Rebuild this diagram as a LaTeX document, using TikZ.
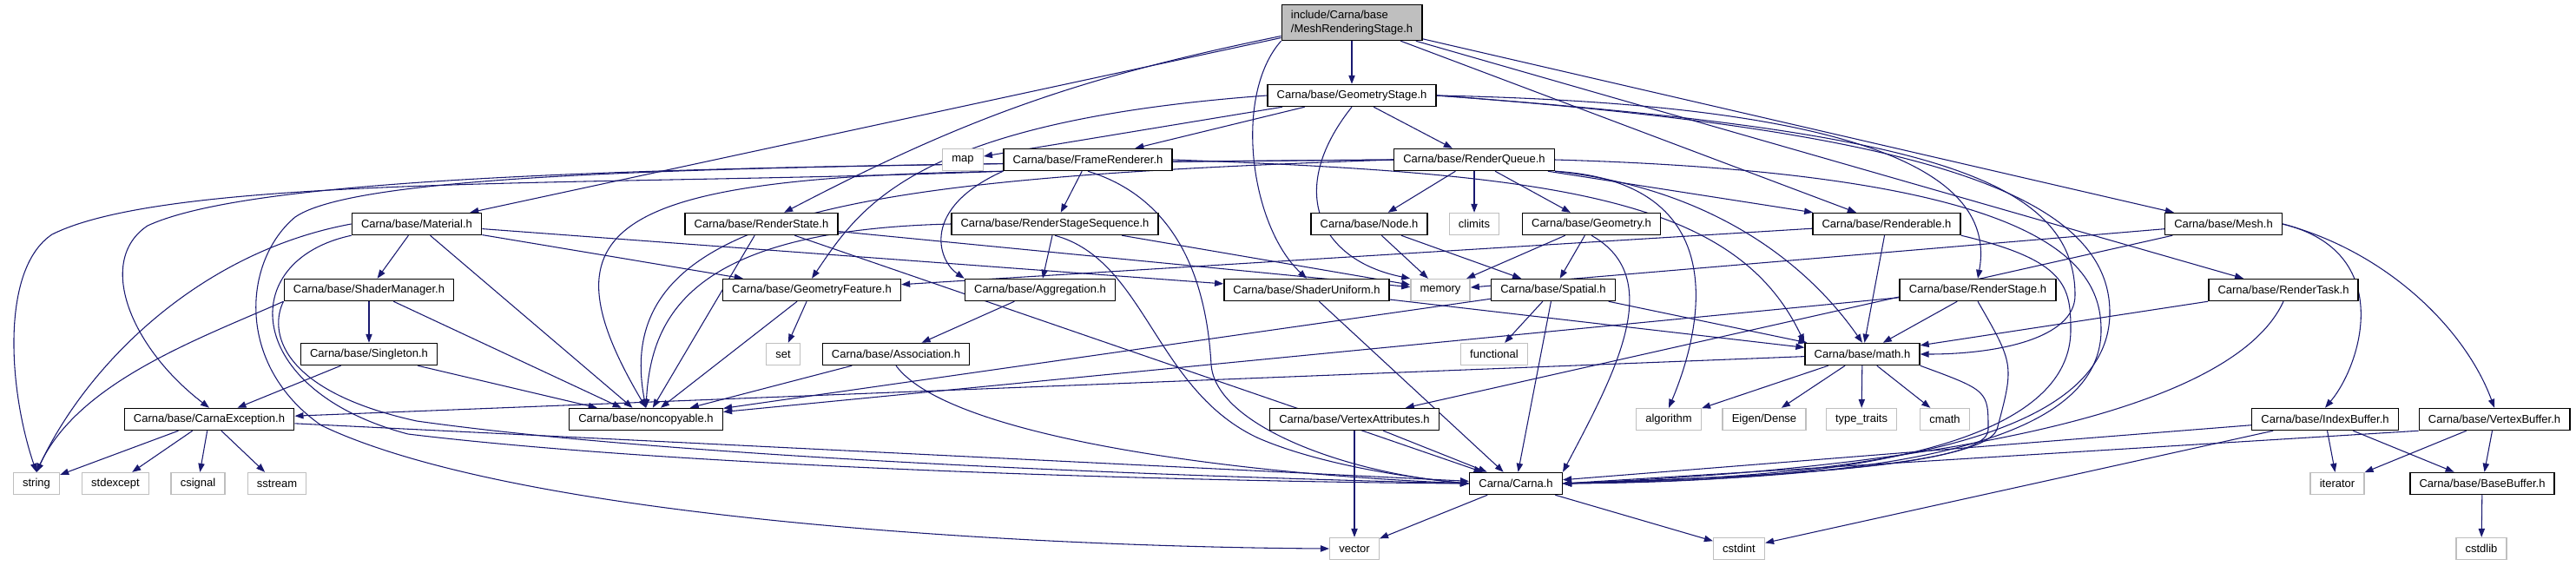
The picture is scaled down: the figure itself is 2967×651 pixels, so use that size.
\documentclass[tikz,border=0pt]{standalone}
\usepackage{fontspec}
\setmainfont{Liberation Sans}
\usetikzlibrary{arrows.meta}
\definecolor{depblue}{HTML}{191970}
\definecolor{sysgray}{HTML}{BFBFBF}
\pgfdeclarelayer{edges}
\pgfsetlayers{edges,main}

\begin{document}
\begin{tikzpicture}[x=0.75pt, y=-0.75pt,
    font=\fontsize{9.75}{11.5}\selectfont,
    hdr/.style={rectangle, fill=white, minimum height=18.75pt, inner xsep=8pt, inner ysep=1pt},
    doc/.style={hdr, draw=black, line width=1.1pt},
    sys/.style={hdr, draw=sysgray, line width=1pt},
    dep/.style={draw=depblue, line width=0.8pt, -{Triangle[length=7.5pt, width=5.5pt]}}]
    \useasboundingbox (0,0) rectangle (2967,651);
    % the header of this graph
    \node[doc, fill=sysgray, align=left, minimum height=30.75pt] (mrs) at (1557,26)
        {include/Carna/base\\/MeshRenderingStage.h};
    \node[doc] (gstage) at (1557,110) {Carna/base/GeometryStage.h};
    % row 3
    \node[sys] (map) at (1109,184) {map};
    \node[doc] (frend) at (1253,184) {Carna/base/FrameRenderer.h};
    \node[doc] (rqueue) at (1698,184) {Carna/base/RenderQueue.h};
    % row 4
    \node[doc] (material) at (480,258) {Carna/base/Material.h};
    \node[doc] (rstate) at (877,258) {Carna/base/RenderState.h};
    \node[doc] (rss) at (1215,258) {Carna/base/RenderStageSequence.h};
    \node[doc] (nodeh) at (1577,258) {Carna/base/Node.h};
    \node[sys] (climits) at (1698,258) {climits};
    \node[doc] (geom) at (1833,258) {Carna/base/Geometry.h};
    \node[doc] (rend) at (2173,258) {Carna/base/Renderable.h};
    \node[doc] (mesh) at (2561,258) {Carna/base/Mesh.h};
    % row 5
    \node[doc] (smgr) at (425,334) {Carna/base/ShaderManager.h};
    \node[doc] (gfeat) at (935,334) {Carna/base/GeometryFeature.h};
    \node[doc] (aggr) at (1198,334) {Carna/base/Aggregation.h};
    \node[doc] (suni) at (1505,334) {Carna/base/ShaderUniform.h};
    \node[sys] (memory) at (1659,334) {memory};
    \node[doc] (spatial) at (1789,334) {Carna/base/Spatial.h};
    \node[doc] (rstage) at (2278,334) {Carna/base/RenderStage.h};
    \node[doc] (rtask) at (2630,334) {Carna/base/RenderTask.h};
    % row 6
    \node[doc] (singleton) at (425,408) {Carna/base/Singleton.h};
    \node[sys] (seth) at (902,408) {set};
    \node[doc] (assoc) at (1032,408) {Carna/base/Association.h};
    \node[sys] (functional) at (1721,408) {functional};
    \node[doc] (math) at (2145,408) {Carna/base/math.h};
    % row 7
    \node[doc] (cexc) at (241,483) {Carna/base/CarnaException.h};
    \node[doc] (nonc) at (744,483) {Carna/base/noncopyable.h};
    \node[doc] (vattr) at (1560,483) {Carna/base/VertexAttributes.h};
    \node[sys] (algorithm) at (1922,483) {algorithm};
    \node[sys] (eigen) at (2032,483) {Eigen/Dense};
    \node[sys] (ttraits) at (2144,483) {type\_traits};
    \node[sys] (cmath) at (2240,483) {cmath};
    \node[doc] (ibuf) at (2678,483) {Carna/base/IndexBuffer.h};
    \node[doc] (vbuf) at (2873,483) {Carna/base/VertexBuffer.h};
    % row 8
    \node[sys] (string) at (42,557) {string};
    \node[sys] (stdexcept) at (133,557) {stdexcept};
    \node[sys] (csignal) at (228,557) {csignal};
    \node[sys] (sstream) at (319,557) {sstream};
    \node[doc] (carna) at (1746,557) {Carna/Carna.h};
    \node[sys] (iterator) at (2692,557) {iterator};
    \node[doc] (bbuf) at (2859,557) {Carna/base/BaseBuffer.h};
    % row 9
    \node[sys] (vector) at (1560,632) {vector};
    \node[sys] (cstdint) at (2003,632) {cstdint};
    \node[sys] (cstdlib) at (2858,632) {cstdlib};

    \begin{pgfonlayer}{edges}
    % straight includes
    \foreach \a/\b in {mrs/gstage, mrs/material, mrs/rend, mrs/mesh, mrs/rtask,
        gstage/map, gstage/frend, gstage/rqueue, frend/rss,
        rqueue/nodeh, rqueue/climits, rqueue/geom, rqueue/rend,
        material/smgr, material/nonc, material/gfeat, material/suni,
        rstate/nonc, rstate/carna, rstate/memory, rss/aggr, rss/memory,
        nodeh/memory, nodeh/spatial, geom/memory, geom/spatial,
        smgr/singleton, smgr/nonc, singleton/cexc, singleton/nonc,
        gfeat/seth, gfeat/nonc, aggr/assoc, assoc/nonc,
        suni/math, suni/carna, spatial/functional, spatial/carna, spatial/math, spatial/nonc,
        rend/math, rend/gfeat, mesh/memory, mesh/vattr,
        rstage/math, rstage/nonc, rtask/math, vattr/vector, vattr/carna,
        ibuf/iterator, ibuf/bbuf, ibuf/carna, ibuf/cstdint,
        vbuf/iterator, vbuf/bbuf, bbuf/cstdlib,
        cexc/string, cexc/stdexcept, cexc/csignal, cexc/sstream, cexc/carna,
        math/algorithm, math/eigen, math/ttraits, math/cmath, math/cexc,
        carna/vector, carna/cstdint}
        \draw[dep] (\a) -- (\b);
    % routed includes
    \draw[dep] (mrs) to[bend right=8] (rstate);
    \draw[dep] (mrs.south west) .. controls (1420,110) and (1440,260) .. (suni.north);
    \draw[dep] (gstage.south) .. controls (1480,220) and (1520,300) .. (memory.north west);
    \draw[dep] (gstage.west) .. controls (1050,140) and (990,240) .. (gfeat.north);
    \draw[dep] (gstage.east) .. controls (2150,120) and (2300,200) .. (rstage.north);
    \draw[dep] (gstage.east) .. controls (2200,150) and (2390,200) .. (2390,340)
        .. controls (2390,390) and (2300,408) .. (math.east);
    \draw[dep] (gstage.east) .. controls (2200,150) and (2430,220) .. (2430,360)
        .. controls (2430,520) and (2100,550) .. (carna.east);
    \draw[dep] (frend.south west) .. controls (1060,240) and (1080,300) .. (aggr.north west);
    \draw[dep] (frend.south west) .. controls (700,205) and (620,260) .. (nonc.north);
    \draw[dep] (frend.south) .. controls (1360,230) and (1390,330) .. (1395,420)
        .. controls (1400,490) and (1550,545) .. (carna.west);
    \draw[dep] (frend.east) .. controls (1800,200) and (2000,230) .. (math.north west);
    \draw[dep] (frend.south west) .. controls (700,215) and (200,200) .. (60,270)
        .. controls (0,310) and (10,450) .. (string.north);
    \draw[dep] (rqueue.south east) .. controls (2000,220) and (2100,330) .. (math.north);
    \draw[dep] (rqueue.south east) .. controls (2000,210) and (1960,380) .. (algorithm.north);
    \draw[dep] (rqueue.east) .. controls (2350,200) and (2420,300) .. (2420,380)
        .. controls (2420,530) and (2100,552) .. (carna.east);
    \draw[dep] (rqueue.west) .. controls (800,190) and (300,200) .. (170,260)
        .. controls (110,300) and (150,400) .. (cexc.north);
    \draw[dep] (rqueue.west) .. controls (900,190) and (420,195) .. (340,250)
        .. controls (280,300) and (270,420) .. (370,490)
        .. controls (600,600) and (1200,630) .. (vector.west);
    \draw[dep] (rqueue.west) .. controls (1000,205) and (700,240) .. (nonc.north);
    \draw[dep] (material.west) .. controls (230,290) and (100,420) .. (string.north);
    \draw[dep] (material.south west) .. controls (270,300) and (280,450) .. (470,500)
        .. controls (800,540) and (1400,555) .. (carna.west);
    \draw[dep] (rss.west) .. controls (800,265) and (750,360) .. (nonc.north);
    \draw[dep] (rss.south) .. controls (1320,300) and (1330,450) .. (1450,505)
        .. controls (1520,535) and (1620,550) .. (carna.west);
    \draw[dep] (geom.south) .. controls (1920,320) and (1860,430) .. (carna.north east);
    \draw[dep] (smgr.south west) .. controls (230,390) and (90,440) .. (string.north);
    \draw[dep] (smgr.south west) .. controls (310,380) and (320,450) .. (480,485)
        .. controls (800,530) and (1400,550) .. (carna.west);
    \draw[dep] (assoc.south) .. controls (1090,500) and (1400,545) .. (carna.west);
    \draw[dep] (rend.south east) .. controls (2380,300) and (2385,330) .. (2385,380)
        .. controls (2385,520) and (2100,555) .. (carna.east);
    \draw[dep] (mesh.east) .. controls (2760,290) and (2720,420) .. (ibuf.north);
    \draw[dep] (mesh.east) .. controls (2750,290) and (2840,380) .. (vbuf.north);
    \draw[dep] (rstage.south) .. controls (2320,420) .. (2300,495)
        .. controls (2280,540) and (2000,550) .. (carna.east);
    \draw[dep] (rtask.south) .. controls (2560,500) and (2100,545) .. (carna.east);
    \draw[dep] (math.south east) .. controls (2290,450) .. (2290,495)
        .. controls (2290,540) and (2000,550) .. (carna.east);
    \draw[dep] (vbuf.south west) -- (carna.east);
    \end{pgfonlayer}
\end{tikzpicture}
\end{document}
